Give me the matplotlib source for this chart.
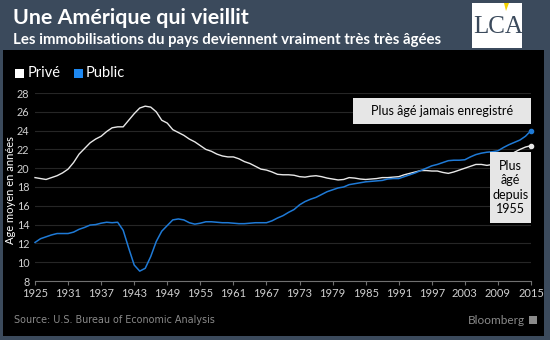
import matplotlib
matplotlib.use("Agg")
import matplotlib.pyplot as plt
from matplotlib.patches import Rectangle, Polygon

years = list(range(1925, 2016))
prive = [19.0, 18.9, 18.8, 19.0, 19.2, 19.5, 19.9, 20.6, 21.5, 22.1,
         22.7, 23.1, 23.4, 23.9, 24.3, 24.4, 24.4, 25.1, 25.8, 26.4,
         26.6, 26.5, 26.0, 25.1, 24.8, 24.1, 23.8, 23.5, 23.1, 22.8,
         22.4, 22.0, 21.8, 21.5, 21.3, 21.2, 21.2, 21.0, 20.7, 20.5,
         20.2, 19.9, 19.8, 19.6, 19.35, 19.3, 19.3, 19.25, 19.1, 19.05,
         19.15, 19.2, 19.1, 18.95, 18.85, 18.75, 18.8, 19.0, 18.95, 18.85,
         18.8, 18.85, 18.9, 19.0, 19.0, 19.05, 19.1, 19.3, 19.45, 19.6,
         19.75, 19.75, 19.7, 19.7, 19.55, 19.45, 19.6, 19.8, 20.0, 20.2,
         20.4, 20.4, 20.3, 20.4, 20.7, 21.0, 21.3, 21.7, 22.0, 22.25,
         22.4]
public = [12.1, 12.5, 12.7, 12.9, 13.05, 13.05, 13.05, 13.2, 13.5, 13.7,
          13.95, 14.0, 14.15, 14.25, 14.2, 14.25, 13.4, 11.5, 9.7, 9.05,
          9.35, 10.6, 12.2, 13.3, 13.9, 14.5, 14.6, 14.5, 14.2, 14.05,
          14.15, 14.3, 14.3, 14.25, 14.2, 14.2, 14.15, 14.1, 14.1, 14.15,
          14.2, 14.2, 14.2, 14.4, 14.7, 14.95, 15.3, 15.6, 16.1, 16.45,
          16.7, 16.9, 17.2, 17.5, 17.7, 17.9, 18.0, 18.25, 18.35, 18.45,
          18.55, 18.6, 18.65, 18.7, 18.85, 18.9, 18.9, 19.1, 19.3, 19.5,
          19.75, 20.0, 20.25, 20.4, 20.6, 20.8, 20.85, 20.85, 20.9, 21.2,
          21.45, 21.6, 21.7, 21.75, 21.85, 22.2, 22.5, 22.75, 23.0, 23.4,
          24.0]
xticks = list(range(1925, 2016, 6))
yticks = list(range(8, 29, 2))

title = "Une Amérique qui vieillit"
subtitle = "Les immobilisations du pays deviennent vraiment très très âgées"
ylabel = "Age moyen en années"
source = "Source: U.S. Bureau of Economic Analysis"
note1 = "Plus âgé jamais enregistré"
note2 = "Plus\nâgé\ndepuis\n1955"

W, H = 550, 340
SLATE = "#3b4a5c"
BLUE = "#1f7ad6"
WHITE = "#e8e8e8"

def fx(x):
    return x / W

def fy(y):
    return 1 - y / H

fig = plt.figure(figsize=(5.5, 3.4), dpi=100, facecolor=SLATE)
fig.patches.append(Rectangle((fx(3), fy(336)), fx(541), (336 - 50) / H,
                             transform=fig.transFigure, facecolor="black",
                             edgecolor="none", zorder=-5))

# logo
fig.patches.append(Rectangle((fx(472), fy(48)), fx(50), 45 / H,
                             transform=fig.transFigure, facecolor="white",
                             edgecolor="none", zorder=1))
fig.text(fx(498), fy(27), "LCA", family="Liberation Serif", fontsize=18,
         color=SLATE, ha="center", va="center", zorder=2)
fig.patches.append(Polygon([(fx(504), fy(3)), (fx(509), fy(3)), (fx(506), fy(11))],
                           closed=True, transform=fig.transFigure,
                           facecolor="#f2d100", edgecolor="none", zorder=3))

fig.text(fx(13), fy(18), title, family="Lato", fontweight="bold", fontsize=15.4,
         color="white", ha="left", va="center")
fig.text(fx(13), fy(40), subtitle, family="Lato", fontweight="bold", fontsize=10.8,
         color="white", ha="left", va="center")

# legend
fig.patches.append(Rectangle((fx(15), fy(78)), fx(9), 9 / H, transform=fig.transFigure,
                             facecolor="white", edgecolor="none", zorder=2))
fig.text(fx(28), fy(73), "Privé", family="Lato", fontsize=10.5, color="white",
         ha="left", va="center")
fig.patches.append(Rectangle((fx(74), fy(78)), fx(9), 9 / H, transform=fig.transFigure,
                             facecolor="#1e88f0", edgecolor="none", zorder=2))
fig.text(fx(86), fy(73), "Public", family="Lato", fontsize=10.5, color="white",
         ha="left", va="center")

ax = fig.add_axes([fx(35), fy(281), (531 - 35) / W, (281 - 93) / H])
ax.set_facecolor("black")
ax.set_xlim(1925, 2015)
ax.set_ylim(8, 28)
ax.set_yticks(yticks)
ax.set_xticks(xticks)
ax.grid(axis="y", color="#262626", linewidth=0.8)
ax.set_axisbelow(True)
for s in ["top", "right", "left"]:
    ax.spines[s].set_visible(False)
ax.spines["bottom"].set_color("#707070")
ax.spines["bottom"].set_linewidth(0.8)
ax.tick_params(axis="x", colors="#707070", length=3, width=0.8, labelcolor="#d0d0d0",
               labelsize=8, pad=2)
ax.tick_params(axis="y", length=0, labelcolor="#d0d0d0", labelsize=7.8, pad=4)
for lab in ax.get_xticklabels() + ax.get_yticklabels():
    lab.set_family("Lato")

ax.plot(years, prive, color=WHITE, linewidth=1.0, clip_on=False, zorder=3)
ax.plot(years, public, color=BLUE, linewidth=1.1, clip_on=False, zorder=4)
ax.plot([years[-1]], [prive[-1]], "o", color=WHITE, markersize=3, clip_on=False, zorder=5)
ax.plot([years[-1]], [public[-1]], "o", color=BLUE, markersize=3, clip_on=False, zorder=5)

fig.text(fx(10.5), fy(190), ylabel, family="Lato", fontsize=8, color="white",
         rotation=90, ha="center", va="center")

# annotation boxes
fig.patches.append(Rectangle((fx(353), fy(124)), (531 - 353) / W, (124 - 98) / H,
                             transform=fig.transFigure, facecolor="#e6e6e6",
                             edgecolor="none", zorder=6))
fig.text(fx(442), fy(111), note1, family="Lato", fontsize=9, color="black",
         ha="center", va="center", zorder=7)
fig.patches.append(Rectangle((fx(490), fy(223)), (531 - 490) / W, (223 - 152) / H,
                             transform=fig.transFigure, facecolor="#e6e6e6",
                             edgecolor="none", zorder=6))
fig.text(fx(510.5), fy(187.5), note2, family="Lato", fontsize=9, color="black",
         ha="center", va="center", linespacing=1.25, zorder=7)

fig.text(fx(14), fy(320), source, family="DejaVu Sans", fontsize=6.9, color="#8a8a8a",
         ha="left", va="center")
fig.text(fx(525), fy(320), "Bloomberg", family="Lato", fontsize=8.5, color="#8a8a8a",
         ha="right", va="center")
fig.patches.append(Rectangle((fx(529), fy(324)), fx(8), 8 / H, transform=fig.transFigure,
                             facecolor="#8a8a8a", edgecolor="none", zorder=2))

fig.savefig("out.png", dpi=100, facecolor=SLATE)
